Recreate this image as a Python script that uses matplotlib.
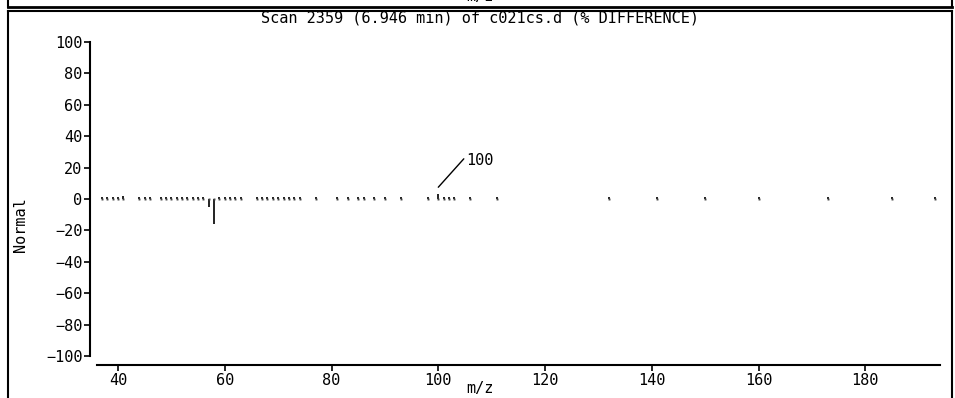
import matplotlib
matplotlib.use('Agg')
import matplotlib.pyplot as plt
from matplotlib.lines import Line2D

plt.rcParams.update({'font.family': 'DejaVu Sans Mono', 'font.size': 11})

# m/z values and % difference (most are tiny, show as dots on the baseline)
mz = [37, 38, 39, 40, 41,
      44, 45, 46,
      48, 49, 50, 51, 52, 53, 54, 55, 56,
      57, 58,
      59, 60, 61, 62, 63,
      66, 67, 68, 69, 70, 71, 72, 73, 74,
      77, 81, 83, 85, 86, 88, 90, 93, 98,
      100, 101, 102, 103, 106, 111,
      132, 141, 150, 160, 173, 185, 193]
diff = [1, 1, 1, 1, 2,
        1, 1, 1,
        1, 1, 1, 1, 1, 1, 1, 1, 1,
        -5, -16,
        1, 1, 1, 1, 1,
        1, 1, 1, 1, 1, 1, 1, 1, 1,
        1, 1, 1, 1, 1, 1, 1, 1, 1,
        3, 1, 1, 1, 1, 1,
        1, 1, 1, 1, 1, 1, 1]
yticks = [-100, -80, -60, -40, -20, 0, 20, 40, 60, 80, 100]
xticks = [40, 60, 80, 100, 120, 140, 160, 180]
title = 'Scan 2359 (6.946 min) of c021cs.d (% DIFFERENCE)'
base_peak = 100

W, H = 955, 398
fig = plt.figure(figsize=(W / 100, H / 100), dpi=100)
ax = fig.add_axes([96.7 / W, 1 - 356 / H, (940 - 96.7) / W, (356 - 42) / H])

ax.vlines(mz, 0, diff, color='#222222', lw=1.4)
ax.plot(mz, [0] * len(mz), 's', ms=1.4, color='#444444', mew=0)

ax.set_xlim(36, 194)
ax.set_ylim(-100, 100)
ax.set_xticks(xticks)
ax.set_yticks(yticks)
ax.set_yticklabels([f'{v}'.replace('-', '\u2212') for v in yticks])

for s in ['top', 'right']:
    ax.spines[s].set_visible(False)
ax.spines['left'].set_position(('outward', 4.8))
ax.spines['left'].set_bounds(-100, 100)
ax.spines['bottom'].set_position(('outward', 6.5))
for s in ['left', 'bottom']:
    ax.spines[s].set_linewidth(1.5)
ax.tick_params(direction='out', length=4, width=1.2, pad=1.5, labelsize=11)

ax.set_ylabel('Normal', fontsize=11)
ax.yaxis.set_label_coords(-0.082, 0.417)
ax.set_xlabel('m/z', fontsize=11)
ax.xaxis.set_label_coords(0.455, -0.105)
ax.xaxis.label.set_va('center')

ax.annotate(str(base_peak), xy=(100, 7.5), xytext=(105.3, 29), textcoords='data',
            ha='left', va='top', fontsize=11,
            arrowprops=dict(arrowstyle='-', color='black', lw=1, shrinkA=0, shrinkB=0,
                            relpos=(0, 0.85)))

fig.text(480 / W, 1 - 18 / H, title, ha='center', va='center', fontsize=11)

# panel frames (bottom of the previous panel, top of this one)
def fl(x0, y0, x1, y1, lw=1.5):
    fig.add_artist(Line2D([x0 / W, x1 / W], [1 - y0 / H, 1 - y1 / H], color='black', lw=lw))

fl(8, 0, 8, 7)
fl(952, 0, 952, 7)
fl(8, 6.5, 952, 6.5, lw=2)
fl(8, 11, 952, 11, lw=1.5)
fl(8, 11, 8, H)
fl(952, 11, 952, H)
fig.text(480 / W, 1 + 3 / H, 'm/z', ha='center', va='center', fontsize=11)

fig.savefig('out.png', dpi=100)
